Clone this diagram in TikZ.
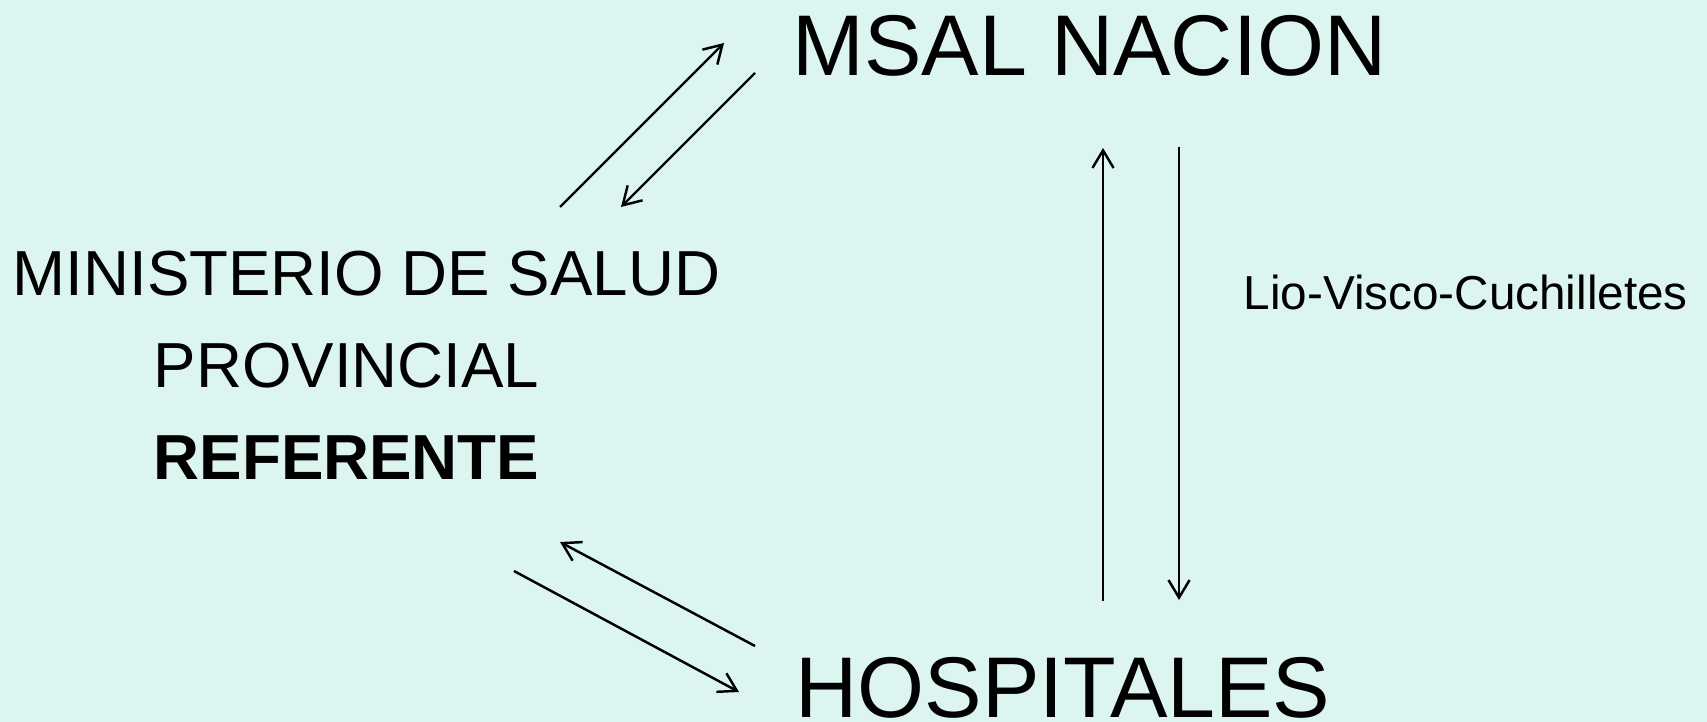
\documentclass[tikz,border=0pt]{standalone}
\usepackage{fontspec}
\setmainfont{Liberation Sans}
\usetikzlibrary{arrows.meta}
\definecolor{bgcyan}{RGB}{221,245,241}

\begin{document}
\begin{tikzpicture}[
  x=0.01cm, y=-0.01cm,
  lbl/.style={anchor=base west, inner sep=0pt},
  big/.style={lbl, font=\fontsize{24.5}{29}\selectfont},
  mid/.style={lbl, font=\fontsize{18.1}{22}\selectfont},
  arr/.style={-{Straight Barb[length=5pt, width=6pt]}, line width=0.7pt},
]
  \fill[bgcyan] (0,0) rectangle (1707,722);
  \useasboundingbox (0,0) rectangle (1707,722);

  \node[big] (msal) at (792,76) {MSAL NACION};
  \node[big] (hosp) at (795,717) {HOSPITALES};
  \node[mid] (minsal) at (12,296) {MINISTERIO DE SALUD};
  \node[mid] (prov) at (153,388) {PROVINCIAL};
  \node[mid] (referente) at (153,479) {\textbf{REFERENTE}};
  \node[lbl, font=\fontsize{13.55}{16}\selectfont] (lio) at (1243,310) {Lio-Visco-Cuchilletes};

  % ends of the arrows
  \coordinate (up1) at (560,207);  \coordinate (up2) at (724,43);
  \coordinate (dn1) at (755,73);   \coordinate (dn2) at (621,207);
  \coordinate (lo1) at (755,646);  \coordinate (lo2) at (560,542);
  \coordinate (lo3) at (514,571);  \coordinate (lo4) at (739,692);
  \coordinate (v1) at (1103,601);  \coordinate (v2) at (1103,148);
  \coordinate (v3) at (1179,147);  \coordinate (v4) at (1179,600);

  \draw[arr] (up1) -- (up2);
  \draw[arr] (dn1) -- (dn2);
  \draw[arr] (lo1) -- (lo2);
  \draw[arr] (lo3) -- (lo4);
  \draw[arr] (v1) -- (v2);
  \draw[arr] (v3) -- (v4);
\end{tikzpicture}
\end{document}
